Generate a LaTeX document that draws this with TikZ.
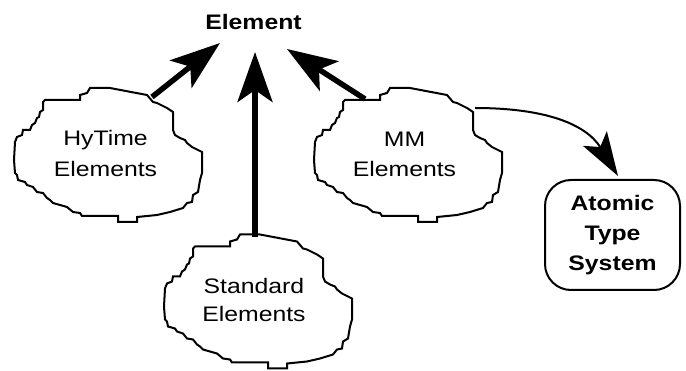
\documentclass[tikz,border=0pt]{standalone}
\usepackage{fontspec}
\setmainfont{Liberation Sans}
\usepackage{graphicx}
\usetikzlibrary{arrows.meta}
\newcommand{\sx}[1]{\scalebox{1.18}[1]{#1}}
\tikzset{
  cloudshape/.pic={
    \draw[line width=2pt, fill=white, line join=miter, miter limit=4]
      (45,100) -- (43,102) -- (43,110) -- (40,112) -- (39,117) -- (37,118) -- (35,123) -- (32,125)
      -- (30,130) -- (23,130) -- (22,135) -- (17,137) -- (15,142) -- (14,160) -- (15,173) -- (17,175)
      -- (18,180) -- (25,182) -- (27,185) -- (33,187) -- (37,192) -- (43,193) -- (47,198) -- (50,200)
      -- (53,203) -- (67,207) -- (73,212) -- (80,213) -- (82,216) -- (118,216) -- (118,222) -- (137,222)
      -- (137,217) -- (157,215) -- (170,212) -- (183,208) -- (187,203) -- (192,202) -- (193,195)
      -- (198,192) -- (200,180) -- (202,173) -- (202,152) -- (192,147) -- (187,143) -- (185,140)
      -- (180,138) -- (175,135) -- (173,130) -- (173,112) -- (167,108) -- (157,103) -- (153,102)
      -- (147,95) -- (110,88) -- (90,88) -- (87,93) -- (80,95) -- (80,100) -- cycle;
  },
  lbl/.style={font=\fontsize{21}{31}\selectfont, align=center, inner sep=0pt},
  bigarrow/.style={line width=5.5pt, -{Stealth[length=50pt,width=35pt,inset=12pt]}},
  thinarrow/.style={line width=2pt, -{Stealth[length=44pt,width=28pt,inset=10pt]}},
  typebox/.style={draw, line width=2pt, rounded corners=26pt, minimum width=135pt,
    minimum height=110pt, inner sep=0pt, font=\bfseries\fontsize{21}{30}\selectfont, align=center}
}
\begin{document}
\begin{tikzpicture}[x=1pt,y=-1pt]
\useasboundingbox (0,0) rectangle (686,371);
\pic at (0,0) {cloudshape};
\pic at (300,0) {cloudshape};
\pic at (150,146.5) {cloudshape};

\node[lbl, font=\bfseries\fontsize{21}{30}\selectfont, anchor=base] (element) at (253.5,30) {\sx{Element}};
\node[lbl] (hytime) at (105.5,153) {\sx{HyTime}\\\sx{Elements}};
\node[lbl, font=\fontsize{21}{30}\selectfont] (mm) at (404.5,154) {\sx{MM}\\\sx{Elements}};
\node[lbl, font=\fontsize{21}{28.5}\selectfont] (standard) at (254,300) {\sx{Standard}\\\sx{Elements}};
\node[typebox] (atomic) at (612.5,235) {\sx{Atomic}\\\sx{Type}\\\sx{System}};

\coordinate (hyTop) at (152,97);
\coordinate (elA) at (220,43);
\coordinate (stTop) at (255,237);
\coordinate (elB) at (255,52);
\coordinate (mmTop) at (365,99);
\coordinate (elC) at (287,49);
\coordinate (mmRight) at (475,108);
\coordinate (atTip) at (618,176);

\draw[bigarrow] (hyTop) -- (elA);
\draw[bigarrow] (stTop) -- (elB);
\draw[bigarrow] (mmTop) -- (elC);
\draw[thinarrow] (mmRight) .. controls (545,108) and (586,124) .. (atTip);
\end{tikzpicture}
\end{document}
